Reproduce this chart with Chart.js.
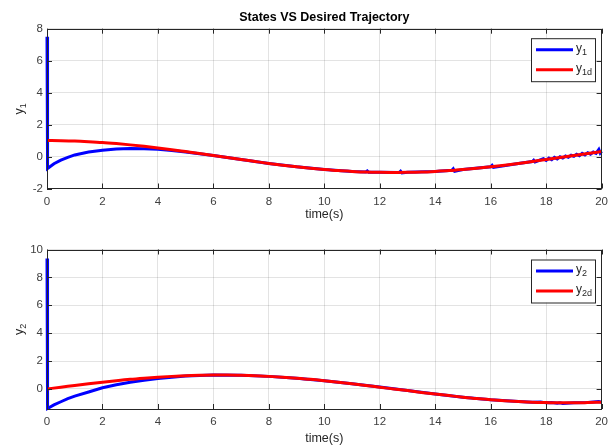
<!DOCTYPE html>
<html>
<head>
<meta charset="utf-8">
<script src="https://cdn.jsdelivr.net/npm/chart.js@4.4.0/dist/chart.umd.min.js"></script>
<style>
  html, body { margin: 0; padding: 0; background: #fff; }
  #wrap { position: relative; width: 614px; height: 448px; overflow: hidden; }
  .box { position: absolute; left: 0; width: 614px; }
</style>
</head>
<body>
<div id="wrap">
  <div class="box" style="top:0;height:230px"><canvas id="topChart" width="614" height="230"></canvas></div>
  <div class="box" style="top:230px;height:218px"><canvas id="bottomChart" width="614" height="218"></canvas></div>
</div>
<script>
// desired trajectories, sampled every 0.5 s
const tRef = [0, 0.5, 1, 1.5, 2, 2.5, 3, 3.5, 4, 4.5, 5, 5.5, 6, 6.5, 7, 7.5, 8, 8.5, 9, 9.5, 10,
  10.5, 11, 11.5, 12, 12.5, 13, 13.5, 14, 14.5, 15, 15.5, 16, 16.5, 17, 17.5, 18, 18.5, 19, 19.5, 20];
const y1d = [1.0, 0.99, 0.97, 0.93, 0.88, 0.81, 0.73, 0.64, 0.54, 0.43, 0.31, 0.19, 0.06, -0.06, -0.19,
  -0.31, -0.43, -0.54, -0.64, -0.73, -0.81, -0.88, -0.93, -0.97, -0.99, -1.0, -0.99, -0.97, -0.93,
  -0.88, -0.81, -0.73, -0.64, -0.54, -0.43, -0.31, -0.19, -0.06, 0.06, 0.19, 0.31];
const y2d = [0, 0.12, 0.25, 0.37, 0.48, 0.59, 0.69, 0.77, 0.84, 0.9, 0.95, 0.98, 1.0, 1.0, 0.98, 0.95,
  0.9, 0.84, 0.77, 0.69, 0.59, 0.48, 0.37, 0.25, 0.12, 0, -0.12, -0.25, -0.37, -0.48, -0.59, -0.69,
  -0.77, -0.84, -0.9, -0.95, -0.98, -1.0, -1.0, -0.98, -0.95];

// actual states
const tY1 = [0, 0.02, 0.25, 0.5, 0.75, 1, 1.5, 2, 2.5, 3, 3.5, 4, 4.5, 5, 5.5, 6, 7, 8, 9, 10, 11,
  11.5, 11.55, 11.6, 12, 12.7, 12.75, 12.8, 13, 14, 14.6, 14.65, 14.7, 15, 16, 16.05, 16.1, 17,
  17.5, 17.55, 17.6, 17.9, 18, 18.1, 18.2, 18.3, 18.4, 18.5, 18.6, 18.7, 18.8, 18.9, 19, 19.1,
  19.2, 19.3, 19.4, 19.5, 19.6, 19.7, 19.8, 19.9, 19.95, 20];
const y1 = [7.5, -0.75, -0.45, -0.22, -0.05, 0.1, 0.28, 0.4, 0.47, 0.5, 0.49, 0.45, 0.38, 0.29, 0.18,
  0.06, -0.19, -0.43, -0.64, -0.81, -0.93, -0.97, -0.9, -0.99, -0.99, -1.0, -0.92, -1.03, -0.99,
  -0.93, -0.86, -0.77, -0.93, -0.81, -0.64, -0.55, -0.68, -0.43, -0.31, -0.23, -0.34, -0.14, -0.24,
  -0.1, -0.2, -0.05, -0.15, -0.02, -0.1, 0.03, -0.05, 0.08, 0.02, 0.14, 0.05, 0.2, 0.1, 0.24,
  0.15, 0.28, 0.2, 0.45, 0.22, 0.33];
const tY2 = [0, 0.02, 0.25, 0.5, 0.75, 1, 1.5, 2, 2.5, 3, 3.5, 4, 4.5, 5, 5.5, 6, 7, 8, 9, 10, 11,
  12, 13, 14, 15, 16, 17, 17.5, 17.8, 18, 18.2, 18.4, 18.5, 18.6, 19, 19.5, 19.9, 20];
const y2 = [9.35, -1.4, -1.15, -0.92, -0.7, -0.52, -0.22, 0.08, 0.3, 0.48, 0.62, 0.74, 0.84, 0.92,
  0.97, 0.99, 0.98, 0.9, 0.77, 0.59, 0.37, 0.13, -0.12, -0.37, -0.59, -0.77, -0.9, -0.95, -0.94,
  -1.0, -0.97, -1.03, -0.99, -1.04, -1.0, -0.97, -0.91, -0.95];

const xTicks = [0, 2, 4, 6, 8, 10, 12, 14, 16, 18, 20];
const y1Ticks = [-2, 0, 2, 4, 6, 8];
const y2Ticks = [0, 2, 4, 6, 8, 10];

const FONT = "'Liberation Sans', Arial, sans-serif";
const TICK_COLOR = "#404040";
const AXIS_COLOR = "#262626";
const GRID_COLOR = "rgba(38, 38, 38, 0.13)";

const pairs = (xs, ys) => xs.map((x, i) => ({ x: x, y: ys[i] }));

// text with a subscript part, e.g. y + "1d"
function subText(ctx, x, y, main, sub, size) {
  ctx.font = size + "px " + FONT;
  ctx.fillText(main, x, y);
  const w = ctx.measureText(main).width;
  ctx.font = Math.round(size * 0.72) + "px " + FONT;
  ctx.fillText(sub, x + w, y + size * 0.3);
  return w + ctx.measureText(sub).width;
}

// box, inward ticks, labels, legend, the MATLAB look
const matlabFrame = {
  id: "matlabFrame",
  afterDraw(chart, args, opts) {
    const { ctx, chartArea: a, scales } = chart;
    ctx.save();
    ctx.strokeStyle = AXIS_COLOR;
    ctx.lineWidth = 1;
    ctx.beginPath();
    scales.x.ticks.forEach((t) => {
      const px = Math.round(scales.x.getPixelForValue(t.value)) + 0.5;
      ctx.moveTo(px, a.bottom);
      ctx.lineTo(px, a.bottom - 5);
      ctx.moveTo(px, a.top);
      ctx.lineTo(px, a.top + 5);
    });
    scales.y.ticks.forEach((t) => {
      const py = Math.round(scales.y.getPixelForValue(t.value)) + 0.5;
      ctx.moveTo(a.left, py);
      ctx.lineTo(a.left + 5, py);
      ctx.moveTo(a.right, py);
      ctx.lineTo(a.right - 5, py);
    });
    ctx.stroke();
    ctx.strokeRect(Math.round(a.left) + 0.5, Math.round(a.top) + 0.5,
      Math.round(a.width) - 1, Math.round(a.height) - 1);

    // x label
    ctx.fillStyle = AXIS_COLOR;
    ctx.textAlign = "center";
    ctx.textBaseline = "middle";
    ctx.font = "12.5px " + FONT;
    ctx.fillText("time(s)", (a.left + a.right) / 2, a.bottom + opts.xLabelGap);

    // y label, rotated
    ctx.save();
    ctx.translate(20, (a.top + a.bottom) / 2);
    ctx.rotate(-Math.PI / 2);
    ctx.textAlign = "left";
    ctx.font = "12.5px " + FONT;
    const w = ctx.measureText("y").width + 9 * 0.6;
    subText(ctx, -w / 2, 0, "y", opts.yIndex, 12.5);
    ctx.restore();

    // title
    if (opts.title) {
      ctx.textAlign = "center";
      ctx.font = "bold 12.5px " + FONT;
      ctx.fillStyle = "#000";
      ctx.fillText(opts.title, (a.left + a.right) / 2, 18);
    }

    // legend
    const lx = 531, ly = a.top + opts.legendTop, lw = 64, lh = 43;
    ctx.fillStyle = "#fff";
    ctx.fillRect(lx, ly, lw, lh);
    ctx.strokeStyle = AXIS_COLOR;
    ctx.strokeRect(lx + 0.5, ly + 0.5, lw, lh);
    const items = [
      { color: "#0000ff", sub: opts.yIndex },
      { color: "#ff0000", sub: opts.yIndex + "d" },
    ];
    items.forEach((it, i) => {
      const yy = ly + 11.5 + i * 20;
      ctx.strokeStyle = it.color;
      ctx.lineWidth = 3;
      ctx.beginPath();
      ctx.moveTo(lx + 5, yy);
      ctx.lineTo(lx + 42, yy);
      ctx.stroke();
      ctx.fillStyle = AXIS_COLOR;
      ctx.textAlign = "left";
      ctx.textBaseline = "middle";
      subText(ctx, lx + 45, yy - 1, "y", it.sub, 12);
    });
    ctx.restore();
  },
};

function makeChart(id, opt) {
  const ctx = document.getElementById(id);
  return new Chart(ctx, {
    type: "line",
    data: {
      datasets: [
        {
          label: "y" + opt.yIndex + "d",
          data: pairs(tRef, opt.ref),
          borderColor: "#ff0000",
          borderWidth: 3,
          pointRadius: 0,
          cubicInterpolationMode: "monotone",
          order: 0,
        },
        {
          label: "y" + opt.yIndex,
          data: pairs(opt.t, opt.actual),
          borderColor: "#0000ff",
          borderWidth: 3,
          pointRadius: 0,
          tension: 0,
          clip: 2,
          order: 1,
        },
      ],
    },
    options: {
      responsive: false,
      animation: false,
      events: [],
      layout: { padding: { left: 0, right: 9, top: opt.top, bottom: 0 } },
      plugins: {
        legend: { display: false },
        tooltip: { enabled: false },
        matlabFrame: {
          title: opt.title,
          yIndex: opt.yIndex,
          xLabelGap: opt.xLabelGap,
          legendTop: opt.legendTop,
        },
      },
      scales: {
        x: {
          type: "linear",
          min: 0,
          max: 20,
          afterBuildTicks: (s) => { s.ticks = xTicks.map((v) => ({ value: v })); },
          afterFit: (s) => { s.height = opt.xHeight; },
          ticks: {
            color: TICK_COLOR,
            font: { family: FONT, size: 11.5 },
            padding: 6,
            maxRotation: 0,
            autoSkip: false,
          },
          grid: { color: GRID_COLOR, drawTicks: false },
          border: { display: false },
        },
        y: {
          type: "linear",
          min: opt.yMin,
          max: opt.yMax,
          afterBuildTicks: (s) => { s.ticks = opt.yTicks.map((v) => ({ value: v })); },
          afterFit: (s) => { s.width = 47; },
          ticks: {
            color: TICK_COLOR,
            font: { family: FONT, size: 11.5 },
            padding: 4,
            autoSkip: false,
          },
          grid: { color: GRID_COLOR, drawTicks: false },
          border: { display: false },
        },
      },
    },
    plugins: [matlabFrame],
  });
}

makeChart("topChart", {
  yIndex: "1",
  ref: y1d,
  t: tY1,
  actual: y1,
  yMin: -2,
  yMax: 8,
  yTicks: y1Ticks,
  top: 28.7,
  xHeight: 41.5,
  xLabelGap: 26,
  legendTop: 9.5,
  title: "States VS Desired Trajectory",
});

makeChart("bottomChart", {
  yIndex: "2",
  ref: y2d,
  t: tY2,
  actual: y2,
  yMin: -1.44,
  yMax: 10,
  yTicks: y2Ticks,
  top: 19.5,
  xHeight: 39,
  xLabelGap: 30,
  legendTop: 10,
  title: null,
});
</script>
</body>
</html>
